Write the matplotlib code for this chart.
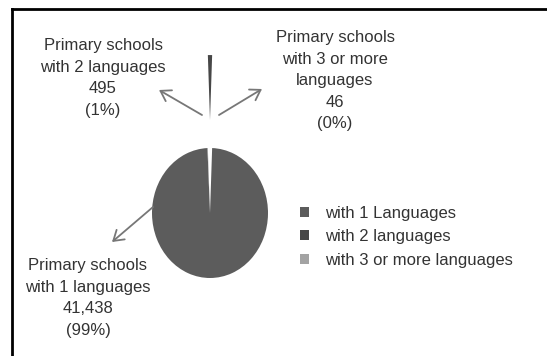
import matplotlib.pyplot as plt
from matplotlib.lines import Line2D

W, H = 547, 356

# data
counts = [41438, 495, 46]
pcts = ['99%', '1%', '0%']
legend_labels = ['with 1 Languages', 'with 2 languages', 'with 3 or more languages']
callouts = ['Primary schools\nwith 1 languages', 'Primary schools\nwith 2 languages',
            'Primary schools\nwith 3 or more\nlanguages']
colors = ['#5c5c5c', '#474747', '#a3a3a3']

plt.rcParams['font.family'] = ['Liberation Sans', 'DejaVu Sans']


def px(x, y):
    # pixel from top-left -> figure fraction
    return x / W, 1 - y / H


fig = plt.figure(figsize=(W / 100, H / 100), dpi=100)
ax = fig.add_axes([0, 0, 1, 1])

# pie centre at (210, 213) px, radius 58 px wide / 65 px tall
cx, cy, rx, ry = 210, 213, 58, 65
total = sum(counts)
start = 90 - 360 * (counts[0] + counts[1] / 2) / total
wedges, _ = ax.pie(counts, colors=colors, startangle=start, explode=[0, 1.43, 0],
                   wedgeprops=dict(linewidth=0))
ax.set_aspect('auto')
ax.set_xlim(-cx / rx, (W - cx) / rx)
ax.set_ylim(-(H - cy) / ry, cy / ry)
ax.axis('off')

# callout labels
fmt = lambda i: '{}\n{:,}\n({})'.format(callouts[i], counts[i], pcts[i])
label_pos = [(88, 258), (103, 38), (335, 30)]
for i, (lx, ly) in enumerate(label_pos):
    fig.text(*px(lx, ly), fmt(i), ha='center', va='top', fontsize=12,
             color='#333333', linespacing=1.55)

# arrows
arrows = [((153, 207), (112, 242)), ((202, 115), (159, 90)), ((219, 115), (262, 89))]
for tail, head in arrows:
    ax.annotate('', xy=px(*head), xytext=px(*tail), xycoords='figure fraction',
                textcoords='figure fraction',
                arrowprops=dict(arrowstyle='->,head_length=0.7,head_width=0.45',
                                color='#777777', lw=1.3, shrinkA=0, shrinkB=0))

leg = fig.legend(wedges, legend_labels, loc='upper left', bbox_to_anchor=px(300, 206),
                 frameon=False, fontsize=12, handlelength=0.55, handleheight=0.55,
                 handletextpad=0.95, labelspacing=0.5, borderpad=0, borderaxespad=0)
for t in leg.get_texts():
    t.set_color('#333333')

# frame lines (left and top)
fig.add_artist(Line2D([12 / W, 1], [1 - 9 / H] * 2, color='black', lw=2,
                      transform=fig.transFigure))
fig.add_artist(Line2D([12 / W] * 2, [0, 1 - 9 / H], color='black', lw=2,
                      transform=fig.transFigure))

fig.savefig('out.png', dpi=100)
